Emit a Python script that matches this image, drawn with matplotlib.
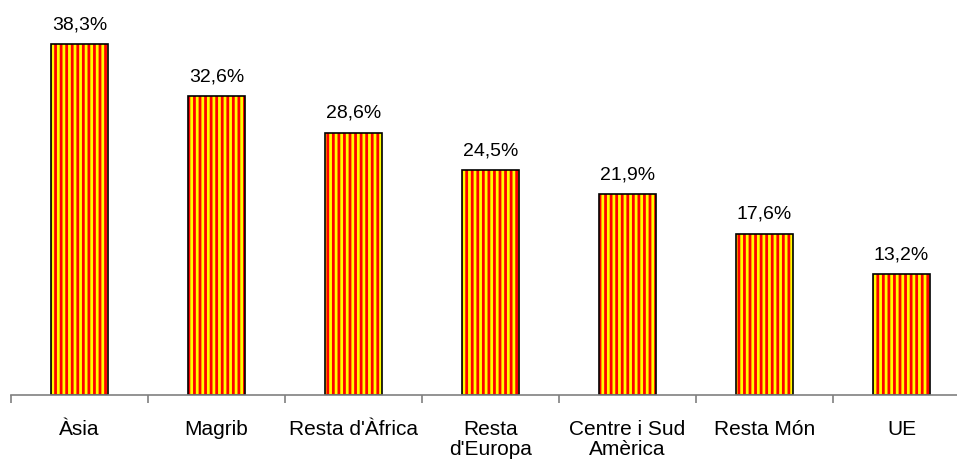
import matplotlib.pyplot as plt
import numpy as np

plt.rcParams['font.family'] = ['Liberation Sans', 'DejaVu Sans']
plt.rcParams['hatch.linewidth'] = 2.0

categories = ['Àsia', 'Magrib', "Resta d'Àfrica", "Resta\nd'Europa",
              'Centre i Sud\nAmèrica', 'Resta Món', 'UE']
values = [38.3, 32.6, 28.6, 24.5, 21.9, 17.6, 13.2]
labels = ['38,3%', '32,6%', '28,6%', '24,5%', '21,9%', '17,6%', '13,2%']

fig = plt.figure(figsize=(9.57, 4.64), dpi=100)
ax = fig.add_axes([11 / 957, 68 / 464, 959 / 957, 385 / 464])

x = np.arange(len(categories)) + 0.5
w = 0.41

# striped fill: red face, yellow vertical hatch
ax.bar(x, values, width=w, color='#ff0000', edgecolor='#ffff00',
       hatch='|||', linewidth=0)
# black outline on top
ax.bar(x, values, width=w, fill=False, edgecolor='black', linewidth=1.2)

for xi, v, lab in zip(x, values, labels):
    ax.text(xi, v + 1.3, lab, ha='center', va='bottom', fontsize=14)

ax.set_xlim(0, len(categories))
ax.set_ylim(0, 42)

ax.set_xticks(np.arange(len(categories) + 1))
ax.set_xticklabels([])
ax.set_xticks(x, minor=True)
ax.set_xticklabels(categories, minor=True, fontsize=15, linespacing=1.1)
ax.tick_params(axis='x', which='major', length=6, width=1.2, color='#808080',
               direction='out')
ax.tick_params(axis='x', which='minor', length=0, pad=17)
ax.set_yticks([])

for s in ['top', 'right', 'left']:
    ax.spines[s].set_visible(False)
ax.spines['bottom'].set_color('#808080')
ax.spines['bottom'].set_linewidth(1.2)

fig.savefig('out.png', dpi=100)
